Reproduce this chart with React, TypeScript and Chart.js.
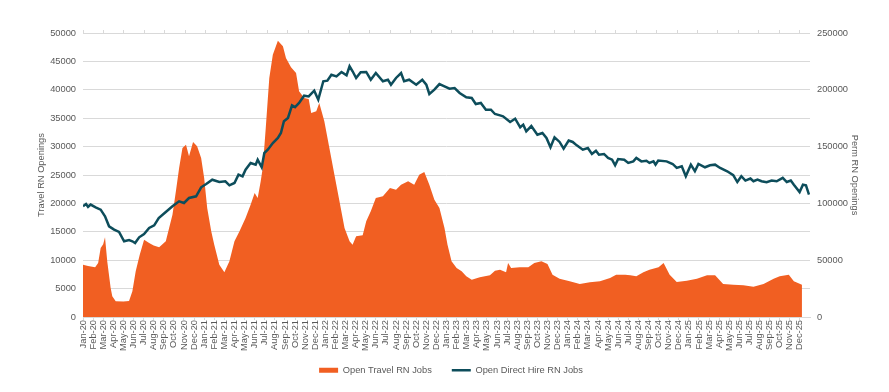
import React, { useEffect, useRef } from "react";
import { Chart, registerables } from "chart.js";

Chart.register(...registerables);

const monthLabels = [
  "Jan-20", "Feb-20", "Mar-20", "Apr-20", "May-20", "Jun-20", "Jul-20", "Aug-20", "Sep-20", "Oct-20", "Nov-20", "Dec-20",
  "Jan-21", "Feb-21", "Mar-21", "Apr-21", "May-21", "Jun-21", "Jul-21", "Aug-21", "Sep-21", "Oct-21", "Nov-21", "Dec-21",
  "Jan-22", "Feb-22", "Mar-22", "Apr-22", "May-22", "Jun-22", "Jul-22", "Aug-22", "Sep-22", "Oct-22", "Nov-22", "Dec-22",
  "Jan-23", "Feb-23", "Mar-23", "Apr-23", "May-23", "Jun-23", "Jul-23", "Aug-23", "Sep-23", "Oct-23", "Nov-23", "Dec-23",
  "Jan-24", "Feb-24", "Mar-24", "Apr-24", "May-24", "Jun-24", "Jul-24", "Aug-24", "Sep-24", "Oct-24", "Nov-24", "Dec-24",
  "Jan-25", "Feb-25", "Mar-25", "Apr-25", "May-25", "Jun-25", "Jul-25", "Aug-25", "Sep-25", "Oct-25", "Nov-25", "Dec-25",
];

// Open Travel RN Jobs (left axis) — position in months since Jan-20, value
const travelMonths = [
  0, 0.5, 1.2, 1.5, 1.75, 2.0, 2.18, 2.4, 2.74, 2.9, 3.24, 4.0, 4.56, 4.89, 5.22, 5.62, 6.05, 6.55, 7.0, 7.54,
  8.2, 8.53, 8.86, 9.2, 9.52, 9.85, 10.2, 10.5, 10.9, 11.3, 11.7, 12.0, 12.3, 12.7, 13.0, 13.5, 14.0, 14.5, 15.0, 15.5,
  16.1, 16.6, 17.0, 17.3, 17.6, 17.8, 18.1, 18.45, 18.8, 19.3, 19.8, 20.1, 20.6, 21.1, 21.4, 21.9, 22.35, 22.6, 23.1, 23.4,
  23.9, 24.4, 24.9, 25.4, 25.9, 26.4, 26.7, 27.05, 27.7, 28.05, 28.5, 29.0, 29.7, 30.4, 31.0, 31.5, 32.2, 32.8, 33.3, 33.8,
  34.3, 34.8, 35.3, 35.8, 36.1, 36.5, 37.0, 37.5, 37.96, 38.5, 39.3, 40.3, 40.8, 41.3, 41.9, 42.1, 42.4, 43.25, 44.1, 44.7,
  45.4, 46.0, 46.5, 47.2, 48.2, 49.2, 50.2, 51.2, 52.2, 52.8, 53.7, 54.2, 54.8, 55.5, 56.1, 57.0, 57.5, 58.1, 58.8, 59.8,
  60.8, 61.8, 62.6, 63.4, 64.4, 65.4, 66.4, 67.4, 68.4, 69.0, 69.9, 70.4, 71.2,
];
const travelValues = [
  9200, 9000, 8750, 9500, 12150, 12800, 14030, 9800, 5100, 3640, 2760, 2750, 2800, 4520, 8040, 10970, 13610, 13030, 12600, 12270,
  13330, 15670, 18010, 22130, 26230, 29750, 30330, 28290, 30810, 30050, 28000, 24470, 19190, 15090, 12730, 9210, 7870, 9800, 13330, 15090,
  17430, 19770, 21830, 20950, 23890, 26230, 33280, 42080, 46180, 48650, 47660, 45600, 43960, 42960, 39740, 38560, 38380, 35920, 36210, 37680,
  34450, 29750, 25050, 20370, 15670, 13330, 12730, 14210, 14380, 16850, 18610, 20950, 21250, 22710, 22410, 23290, 23890, 23290, 25050, 25530,
  23290, 20650, 19190, 15670, 12730, 9800, 8630, 8040, 7160, 6570, 6990, 7340, 8150, 8330, 7870, 9510, 8630, 8750, 8750, 9510,
  9800, 9330, 7450, 6740, 6280, 5810, 6100, 6280, 6870, 7450, 7450, 7340, 7160, 7870, 8330, 8750, 9510, 7450, 6160, 6400,
  6740, 7340, 7340, 5810, 5690, 5570, 5340, 5810, 6740, 7160, 7450, 6280, 5690,
];

// Open Direct Hire RN Jobs (right axis)
const permMonths = [
  0, 0.3, 0.5, 0.76, 1.25, 1.75, 2.18, 2.58, 3.08, 3.57, 4.07, 4.56, 4.89, 5.16, 5.56, 6.05, 6.55, 7.05, 7.5, 8.2,
  8.86, 9.52, 10.0, 10.5, 11.2, 11.7, 12.2, 12.8, 13.5, 14.1, 14.5, 15.0, 15.4, 15.8, 16.1, 16.6, 17.1, 17.3, 17.7, 17.96,
  18.3, 18.8, 19.3, 19.6, 19.9, 20.3, 20.7, 21.0, 21.4, 21.9, 22.35, 22.9, 23.3, 23.8, 24.2, 24.6, 25.1, 25.6, 26.1, 26.4,
  26.7, 27.05, 27.5, 28.05, 28.5, 29.0, 29.7, 30.2, 30.5, 31.0, 31.5, 31.8, 32.3, 33.0, 33.6, 34.0, 34.3, 34.8, 35.3, 35.8,
  36.3, 36.8, 37.3, 37.96, 38.5, 38.9, 39.4, 39.9, 40.4, 40.8, 41.3, 41.6, 42.3, 42.8, 43.3, 43.6, 43.9, 44.4, 45.0, 45.5,
  45.9, 46.3, 46.7, 47.2, 47.6, 48.1, 48.5, 48.9, 49.5, 50.0, 50.4, 50.8, 51.1, 51.6, 52.0, 52.4, 52.7, 53.0, 53.6, 54.0,
  54.5, 54.8, 55.3, 55.8, 56.1, 56.5, 56.7, 56.97, 57.8, 58.4, 58.8, 59.3, 59.7, 60.2, 60.6, 60.95, 61.6, 62.1, 62.6, 63.1,
  63.8, 64.4, 64.8, 65.2, 65.6, 66.1, 66.4, 66.8, 67.2, 67.7, 68.2, 68.7, 69.3, 69.7, 70.1, 70.4, 70.97, 71.3, 71.6, 71.9,
];
const permValues = [
  97500, 99500, 97000, 99000, 96550, 94470, 88630, 79830, 76880, 74830, 66630, 67800, 66630, 65140, 70160, 73060, 78350, 80700, 87150, 92430,
  97450, 101850, 100400, 104760, 106230, 114170, 117080, 120870, 118800, 119400, 115930, 118000, 125270, 123800, 129670, 135570, 134100, 138480, 131780, 144370,
  147270, 153170, 157570, 161970, 172270, 175180, 186360, 184800, 188380, 194800, 194200, 199230, 191300, 207500, 208000, 213300, 211800, 215670, 212700, 220700,
  216300, 210400, 215400, 215700, 208900, 214800, 207500, 208900, 204500, 210400, 214800, 207500, 208900, 204500, 208900, 204500, 196300, 200100, 205000, 203100,
  201000, 201500, 197200, 193400, 192800, 187500, 188400, 182500, 182500, 178700, 177500, 176700, 171700, 174600, 167000, 169300, 163500, 168100, 160500, 162000,
  157600, 149400, 158100, 154100, 148200, 155300, 154100, 151100, 147300, 148700, 143500, 146400, 142900, 143500, 140000, 138500, 133500, 139100, 138500, 135600,
  137000, 140000, 137000, 137500, 135600, 137000, 134100, 137800, 137000, 134700, 131200, 132600, 123900, 134100, 128300, 134700, 131800, 133500, 134100, 131200,
  128300, 124800, 118800, 123900, 120100, 121900, 119500, 121000, 119500, 118700, 120100, 119500, 122500, 118800, 120100, 116500, 110000, 116500, 115900, 107700,
];

const ORANGE = "#F15F22";
const TEAL = "#0D4D5B";
const TEXT = "#595959";
const GRID = "#D9D9D9";

// nudges the legend row up a few pixels after layout
const legendNudge = {
  id: "legendNudge",
  afterLayout(chart: any) {
    const l = chart.legend;
    if (l) {
      l.top -= 6.5;
      l.bottom -= 6.5;
    }
  },
};

export default function App() {
  const ref = useRef<HTMLCanvasElement>(null);

  useEffect(() => {
    document.body.style.margin = "0";
    Chart.defaults.font.family = "'Liberation Sans', Arial, sans-serif";
    Chart.defaults.color = TEXT;
    const canvas = ref.current;
    if (!canvas) return;
    const font = { size: 9.3 };
    const chart = new Chart(canvas, {
      type: "line",
      data: {
        datasets: [
          {
            label: "Open Travel RN Jobs",
            data: travelMonths.map((m, i) => ({ x: m, y: travelValues[i] })),
            xAxisID: "x",
            yAxisID: "y",
            fill: "origin",
            backgroundColor: ORANGE,
            borderColor: ORANGE,
            borderWidth: 0,
            pointRadius: 0,
            pointStyle: "rect",
            tension: 0,
            order: 1,
          },
          {
            label: "Open Direct Hire RN Jobs",
            data: permMonths.map((m, i) => ({ x: m, y: permValues[i] })),
            xAxisID: "x",
            yAxisID: "y1",
            fill: false,
            backgroundColor: TEAL,
            borderColor: TEAL,
            borderWidth: 2.5,
            pointRadius: 0,
            pointStyle: "line",
            tension: 0,
            order: 0,
          },
        ],
      },
      options: {
        responsive: false,
        animation: false,
        layout: { padding: { top: 33, left: 13, right: 0, bottom: 0.7 } },
        plugins: {
          legend: {
            position: "bottom",
            labels: {
              usePointStyle: true,
              pointStyleWidth: 19,
              boxHeight: 5,
              padding: 20,
              color: TEXT,
              font,
              sort: (a: any, b: any) => a.datasetIndex - b.datasetIndex,
            },
          },
          tooltip: { enabled: false },
        },
        scales: {
          x: {
            type: "linear",
            position: "bottom",
            min: 0,
            max: 72,
            afterBuildTicks: (s: any) => {
              s.ticks = monthLabels.map((_, i) => ({ value: i }));
            },
            afterFit: (s: any) => {
              s.height = 35;
            },
            ticks: {
              autoSkip: false,
              minRotation: 90,
              maxRotation: 90,
              padding: 0,
              color: TEXT,
              font,
              callback: (v: any) => monthLabels[v as number] ?? "",
            },
            grid: { display: true, drawOnChartArea: false, drawTicks: true, tickLength: 3, color: GRID },
            border: { display: true, color: GRID },
          },
          x2: {
            type: "linear",
            position: "top",
            min: 0,
            max: 72,
            afterBuildTicks: (s: any) => {
              const t = [];
              for (let k = 0; k <= 35; k++) t.push({ value: (k * 71) / 35 });
              s.ticks = t;
            },
            afterFit: (s: any) => {
              s.height = 0;
            },
            ticks: { display: false },
            grid: { display: true, drawOnChartArea: false, drawTicks: true, tickLength: 3, color: GRID },
            border: { display: false },
          },
          y: {
            type: "linear",
            position: "left",
            min: 0,
            max: 50000,
            afterFit: (s: any) => {
              s.width = 70;
            },
            ticks: { stepSize: 5000, padding: 7, color: TEXT, font, callback: (v: any) => String(v) },
            grid: { color: GRID, lineWidth: 1, drawTicks: false },
            border: { display: false },
            title: {
              display: true,
              text: "Travel RN Openings",
              color: TEXT,
              font,
              padding: { top: 22.6, bottom: 0 },
            },
          },
          y1: {
            type: "linear",
            position: "right",
            min: 0,
            max: 250000,
            afterFit: (s: any) => {
              s.width = 79;
            },
            ticks: { stepSize: 50000, padding: 7, color: TEXT, font, callback: (v: any) => String(v) },
            grid: { drawOnChartArea: false, drawTicks: false },
            border: { display: false },
            title: {
              display: true,
              text: "Perm RN Openings",
              color: TEXT,
              font,
              padding: { top: 28.4, bottom: 0 },
            },
          },
        },
      },
      plugins: [legendNudge],
    });
    return () => chart.destroy();
  }, []);

  return <canvas ref={ref} width={889} height={392} style={{ display: "block" }} />;
}
